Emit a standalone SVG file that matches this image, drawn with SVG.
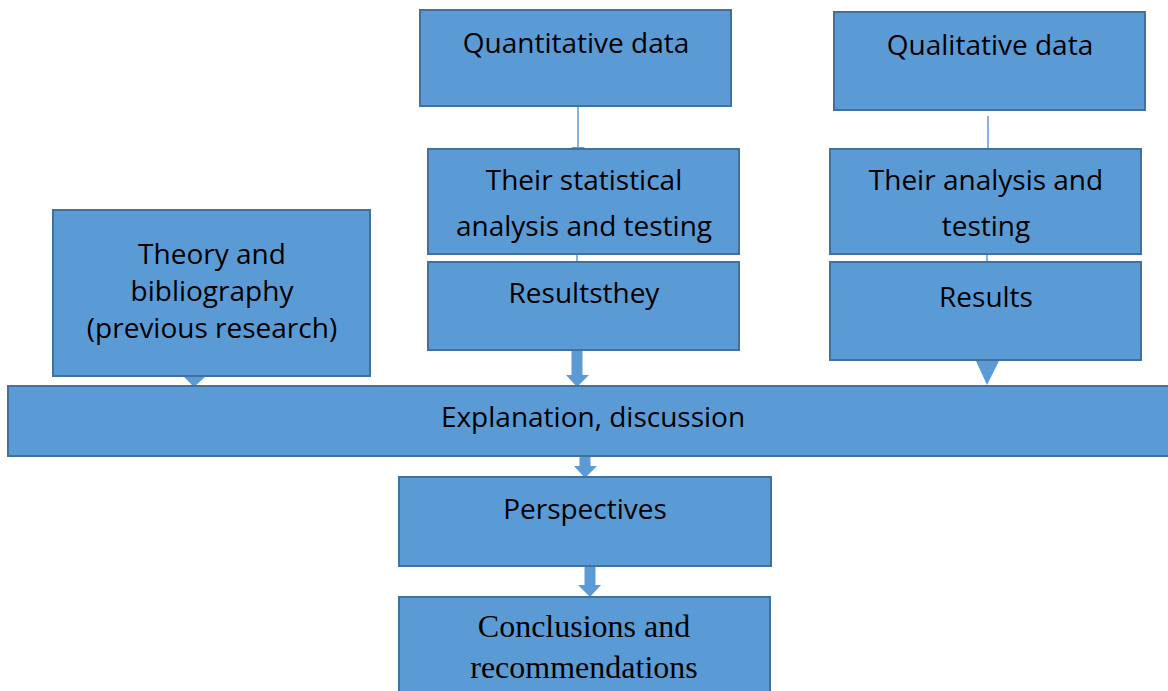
<svg xmlns="http://www.w3.org/2000/svg" width="1168" height="691" viewBox="0 0 1168 691">
<style>
.box{fill:#5B9BD5;stroke:#41719C;stroke-width:2}
.t{font-family:"Open Sans","Liberation Sans",sans-serif;font-size:28px;fill:#000;text-anchor:middle}
.s{font-family:"Liberation Serif","Times New Roman",serif;font-size:32px;fill:#000;text-anchor:middle}
.thin{stroke:#5B9BD5;stroke-width:1.5;fill:none}
.thick{stroke:#5B9BD5;stroke-width:11;fill:none}
.head{fill:#5B9BD5}
</style>
<rect width="1168" height="691" fill="#fff"/>
<g id="connectors">
<line class="thin" x1="578" y1="106" x2="578" y2="150"/>
<polygon class="head" points="571,147 585,147 578,152"/>
<line class="thin" x1="577" y1="254" x2="577" y2="262"/>
<line class="thin" x1="988" y1="116" x2="988" y2="150"/>
<line class="thin" x1="987" y1="254" x2="987" y2="262"/>
<line class="thick" x1="577" y1="350" x2="577" y2="378"/>
<polygon class="head" points="566,375 589,375 577,387"/>
<polygon class="head" points="183,376 206,376 194,387"/>
<polygon class="head" points="976,361 999,361 987,385"/>
<line class="thick" x1="585" y1="456" x2="585" y2="468"/>
<polygon class="head" points="574,466 597,466 585,478"/>
<line class="thick" x1="590" y1="566" x2="590" y2="586"/>
<polygon class="head" points="578,585 601,585 590,597"/>
</g>
<g id="quantitative"><rect class="box" x="420" y="10" width="311" height="96"/><text class="t" x="576" y="53">Quantitative data</text></g>
<g id="qualitative"><rect class="box" x="834" y="12" width="311" height="98"/><text class="t" x="990" y="55">Qualitative data</text></g>
<g id="stat"><rect class="box" x="428" y="149" width="311" height="105"/><text class="t" x="584" y="190">Their statistical</text><text class="t" x="584" y="236">analysis and testing</text></g>
<g id="resultsthey"><rect class="box" x="428" y="262" width="311" height="88"/><text class="t" x="584" y="303">Resultsthey</text></g>
<g id="analysis"><rect class="box" x="830" y="149" width="311" height="105"/><text class="t" x="986" y="190">Their analysis and</text><text class="t" x="986" y="236">testing</text></g>
<g id="results"><rect class="box" x="830" y="262" width="311" height="98"/><text class="t" x="986" y="307">Results</text></g>
<g id="theory"><rect class="box" x="53" y="210" width="317" height="166"/><text class="t" x="212" y="264">Theory and</text><text class="t" x="212" y="301">bibliography</text><text class="t" x="212" y="338">(previous research)</text></g>
<g id="explanation"><rect class="box" x="8" y="386" width="1170" height="70"/><text class="t" x="593" y="427">Explanation, discussion</text></g>
<g id="perspectives"><rect class="box" x="399" y="477" width="372" height="89"/><text class="t" x="585" y="519">Perspectives</text></g>
<g id="conclusions"><rect class="box" x="399" y="597" width="371" height="100"/><text class="s" x="584" y="637">Conclusions and</text><text class="s" x="584" y="678">recommendations</text></g>
</svg>
